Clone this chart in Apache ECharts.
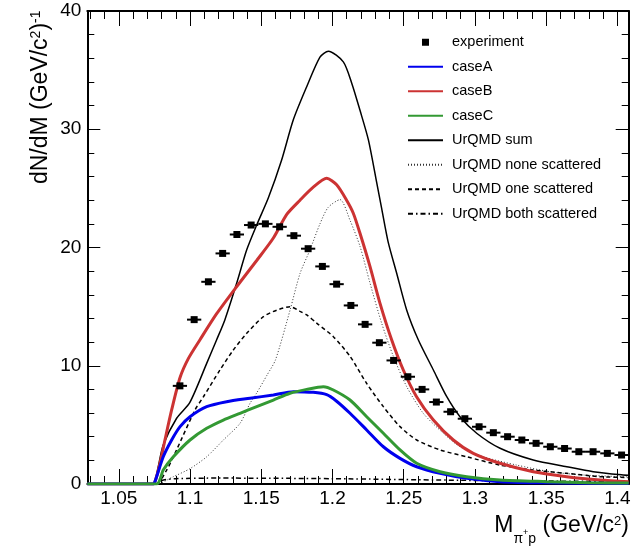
<!DOCTYPE html>
<html>
<head>
<meta charset="utf-8">
<script src="https://cdn.jsdelivr.net/npm/echarts@6/dist/echarts.min.js"></script>
<style>
html,body{margin:0;padding:0;background:#fff;}
#chart{width:640px;height:549px;}
</style>
</head>
<body>
<div id="chart"></div>
<script>
// ---------- data ----------
const xMin = 1.0279, xMax = 1.4079;
const xMajorTicks = [1.05, 1.1, 1.15, 1.2, 1.25, 1.3, 1.35, 1.4];
const xMinorTicks = [1.03,1.04,1.05,1.06,1.07,1.08,1.09,1.1,1.11,1.12,1.13,1.14,1.15,1.16,1.17,1.18,1.19,1.2,
  1.21,1.22,1.23,1.24,1.25,1.26,1.27,1.28,1.29,1.3,1.31,1.32,1.33,1.34,1.35,1.36,1.37,1.38,1.39,1.4];
const yTickLabels = [0, 10, 20, 30, 40];

const expCenters = [1.0929,1.1029,1.1129,1.1229,1.1329,1.1429,1.1529,1.1629,1.1729,1.1829,1.1929,1.2029,
  1.2129,1.2229,1.2329,1.2429,1.2529,1.2629,1.2729,1.2829,1.2929,1.3029,1.3129,1.3229,1.3329,1.3429,
  1.3529,1.3629,1.3729,1.3829,1.3929,1.4029];
const expValues = [8.3,13.9,17.1,19.5,21.1,21.9,22.0,21.75,21.0,19.9,18.4,16.9,
  15.1,13.5,11.95,10.45,9.07,8.0,6.93,6.11,5.52,4.84,4.34,4.0,3.72,3.44,
  3.15,3.0,2.73,2.73,2.59,2.45];
const expHalfWidth = 0.005;

const caseA = [[1.0279,0],[1.074,0],[1.0754,0.2],[1.0812,2.3],[1.0871,3.72],[1.0930,4.85],[1.1000,5.69],
  [1.1117,6.54],[1.1257,6.96],[1.1421,7.25],[1.1585,7.53],[1.1725,7.81],[1.1865,7.75],[1.1959,7.55],
  [1.2029,7.0],[1.2123,5.98],[1.2240,4.57],[1.2357,3.15],[1.2474,2.17],[1.2591,1.46],[1.2755,0.9],
  [1.2942,0.48],[1.3176,0.2],[1.35,0.1],[1.4079,0.05]];
const caseB = [[1.0279,0],[1.074,0],[1.0754,0.2],[1.0789,1.75],[1.0824,3.72],[1.0871,6.26],[1.0930,9.0],
  [1.0988,10.6],[1.1070,12.2],[1.1187,14.4],[1.1328,16.7],[1.1468,18.9],[1.1585,20.8],[1.1679,22.8],
  [1.1772,24.0],[1.1865,25.1],[1.1959,25.85],[1.2029,25.3],[1.2099,24.0],[1.2146,22.9],[1.2193,21.2],
  [1.2263,18.4],[1.2333,15.3],[1.2415,12.2],[1.2497,9.64],[1.2590,7.38],[1.2708,5.41],[1.2848,3.72],
  [1.2988,2.59],[1.3176,1.75],[1.3409,1.04],[1.3644,0.62],[1.3878,0.34],[1.4079,0.2]];
const caseC = [[1.0279,0],[1.0765,0],[1.0812,1.18],[1.0883,2.3],[1.1000,3.72],[1.1117,4.71],[1.1234,5.41],
  [1.1351,5.98],[1.1468,6.54],[1.1585,7.1],[1.1702,7.67],[1.1819,8.0],[1.1936,8.23],[1.2006,7.95],
  [1.2123,7.1],[1.2240,5.69],[1.2357,4.29],[1.2474,2.88],[1.2591,1.75],[1.2755,1.04],[1.2942,0.62],
  [1.3176,0.34],[1.35,0.2],[1.38,0.1],[1.4079,0.08]];
const urqmdSum = [[1.0279,0],[1.074,0],[1.0754,0.2],[1.0777,1.46],[1.0812,3.3],[1.0906,5.56],[1.0999,6.9],
  [1.1117,10.2],[1.1187,12.2],[1.1245,13.9],[1.1328,17.0],[1.1398,19.8],[1.1468,21.9],[1.1550,24.2],
  [1.1643,27.4],[1.1725,30.8],[1.1819,33.6],[1.1912,36.1],[1.1971,36.6],[1.2076,35.7],[1.2135,33.9],
  [1.2193,31.6],[1.2252,29.1],[1.2310,25.5],[1.2345,23.3],[1.2390,20.5],[1.2451,17.8],[1.2521,14.7],
  [1.2602,12.2],[1.2708,9.64],[1.2802,7.38],[1.2895,5.69],[1.3012,4.29],[1.3176,3.02],[1.3409,2.03],
  [1.3644,1.46],[1.3830,1.04],[1.4040,0.76],[1.4079,0.74]];
const urqmdNone = [[1.0279,0],[1.0765,0],[1.0883,0.62],[1.1000,1.3],[1.1117,2.3],[1.1234,3.72],[1.1351,5.13],
  [1.1421,6.82],[1.1468,7.7],[1.1540,9.2],[1.1600,10.5],[1.1702,14.7],[1.1772,17.8],[1.1842,19.8],
  [1.1912,22.0],[1.1970,23.4],[1.2053,24.05],[1.2123,22.3],[1.2193,20.1],[1.2263,17.0],[1.2345,13.6],
  [1.2427,10.8],[1.2521,8.23],[1.2637,5.98],[1.2778,4.29],[1.2895,3.15],[1.3059,2.3],[1.3293,1.6],
  [1.3527,1.04],[1.3761,0.76],[1.4079,0.6]];
const urqmdOne = [[1.0279,0],[1.076,0],[1.0836,1.18],[1.0906,2.9],[1.1035,6.26],[1.1094,7.38],[1.1210,9.64],
  [1.1304,11.33],[1.1398,12.74],[1.1515,14.15],[1.1608,14.7],[1.1702,15.0],[1.1772,14.6],[1.1819,14.3],
  [1.1889,13.6],[1.2006,12.46],[1.2123,10.8],[1.2240,8.5],[1.2357,6.54],[1.2474,4.85],[1.2591,3.72],
  [1.2755,2.88],[1.2942,2.3],[1.3176,1.6],[1.3409,1.18],[1.3644,0.9],[1.3878,0.62],[1.4079,0.55]];
const urqmdBoth = [[1.0279,0],[1.076,0],[1.08,0.3],[1.09,0.45],[1.12,0.5],[1.2,0.45],[1.3,0.3],[1.4079,0.2]];

// ---------- chart ----------
const FONT = '"Liberation Sans", Arial, Helvetica, sans-serif';
const chart = echarts.init(document.getElementById('chart'), null, {renderer: 'canvas'});
const grid = {left: 87.3, top: 11, right: 11.3, bottom: 65, containLabel: false};

function xAxisDef(pos, ticks, len, showLabel, showLine) {
  return {
    type: 'value', min: xMin, max: xMax, position: pos,
    axisLine: {show: showLine, onZero: false, lineStyle: {color: '#000', width: 2}},
    axisTick: {show: true, inside: true, length: len, customValues: ticks, lineStyle: {color: '#000', width: 1}},
    axisLabel: {show: showLabel, customValues: xMajorTicks, fontSize: 19, fontFamily: FONT, color: '#000', margin: 5},
    splitLine: {show: false}
  };
}
function yAxisDef(pos, showLabel) {
  return {
    type: 'value', min: 0, max: 40, interval: 10, position: pos,
    axisLine: {show: true, onZero: false, lineStyle: {color: '#000', width: 2}},
    axisTick: {show: true, inside: true, length: 13, lineStyle: {color: '#000', width: 1}},
    minorTick: {show: true, splitNumber: 5, length: 7, lineStyle: {color: '#000', width: 1}},
    axisLabel: {show: showLabel, fontSize: 19, fontFamily: FONT, color: '#000', margin: 6},
    splitLine: {show: false}, minorSplitLine: {show: false}
  };
}

function lineSeries(name, data, color, width, type) {
  return {
    name: name, type: 'line', data: data, showSymbol: false, symbol: 'none',
    smooth: 0.25, xAxisIndex: 0, yAxisIndex: 0,
    lineStyle: {color: color, width: width, type: type || 'solid'},
    itemStyle: {color: color}, emphasis: {disabled: true}, silent: true, animation: false
  };
}
function legendLine(name) {
  return {name: name, itemStyle: {color: 'rgba(0,0,0,0)', opacity: 0, borderWidth: 0}};
}

const expData = expCenters.map((c, i) => [c, expValues[i]]);

const option = {
  animation: false,
  grid: grid,
  xAxis: [
    xAxisDef('bottom', xMajorTicks, 15, true, true),
    xAxisDef('bottom', xMinorTicks, 8, false, false),
    xAxisDef('top', xMajorTicks, 15, false, true),
    xAxisDef('top', xMinorTicks, 8, false, false)
  ],
  yAxis: [yAxisDef('left', true), yAxisDef('right', false)],
  legend: {
    orient: 'vertical', left: 407, top: 34.7, itemWidth: 35, itemHeight: 14, itemGap: 9.5,
    selectedMode: false, padding: 0,
    textStyle: {fontSize: 14.5, fontFamily: FONT, color: '#000', lineHeight: 14, padding: [0, 0, 0, 4]},
    data: [
      {name: 'experiment', icon: 'path://M0,0L0.01,0M35,14L35.01,14M14,3.5h7v7h-7z', itemStyle: {color: '#000', borderWidth: 0}},
      legendLine('caseA'), legendLine('caseB'), legendLine('caseC'), legendLine('UrQMD sum'),
      legendLine('UrQMD none scattered'), legendLine('UrQMD one scattered'), legendLine('UrQMD both scattered')
    ]
  },
  series: [
    lineSeries('UrQMD sum', urqmdSum, '#000', 1.5),
    lineSeries('UrQMD none scattered', urqmdNone, '#333', 1, [1, 2]),
    lineSeries('UrQMD one scattered', urqmdOne, '#000', 1.5, [4, 3]),
    lineSeries('UrQMD both scattered', urqmdBoth, '#000', 1.5, [5, 3, 1.5, 3]),
    lineSeries('caseB', caseB, '#cc3333', 3),
    lineSeries('caseA', caseA, '#0000ee', 3),
    lineSeries('caseC', caseC, '#339933', 3),
    {
      name: 'experiment', type: 'custom', data: expData, xAxisIndex: 0, yAxisIndex: 0,
      itemStyle: {color: '#000'}, silent: true, z: 10,
      renderItem: function (params, api) {
        const x = api.value(0), y = api.value(1);
        const p = api.coord([x, y]);
        const l = api.coord([x - expHalfWidth, y]);
        const r = api.coord([x + expHalfWidth, y]);
        return {
          type: 'group', children: [
            {type: 'line', shape: {x1: l[0], y1: p[1], x2: r[0], y2: p[1]}, style: {stroke: '#000', lineWidth: 2}},
            {type: 'rect', shape: {x: p[0] - 3.5, y: p[1] - 3.5, width: 7, height: 7}, style: {fill: '#000'}}
          ]
        };
      }
    }
  ],
  graphic: [
    {
      type: 'text', x: 52.5, y: 10.5, rotation: Math.PI / 2, silent: true,
      style: {
        text: '{m|dN/dM (GeV/c}{u|2}{m|)}{u|-1}', align: 'right', verticalAlign: 'bottom',
        fontFamily: FONT, fill: '#000',
        rich: {
          m: {fontSize: 23, lineHeight: 23, fontFamily: FONT, fill: '#000'},
          u: {fontSize: 14, lineHeight: 14, verticalAlign: 'top', fontFamily: FONT, fill: '#000'}
        }
      }
    },
    {
      type: 'text', x: 629, y: 506, silent: true,
      style: {
        text: '{m|M}{s|π}{ss|+}{s|p}{m| (GeV/c}{u|2}{m|)}', align: 'right', verticalAlign: 'top',
        fontFamily: FONT, fill: '#000',
        rich: {
          m: {fontSize: 23, lineHeight: 40, fontFamily: FONT, fill: '#000'},
          s: {fontSize: 14, lineHeight: 14, verticalAlign: 'bottom', fontFamily: FONT, fill: '#000'},
          ss: {fontSize: 9, verticalAlign: 'top', padding: [22, 0, 0, 0], fontFamily: FONT, fill: '#000'},
          u: {fontSize: 13, verticalAlign: 'top', padding: [9, 0, 0, 0], fontFamily: FONT, fill: '#000'}
        }
      }
    }
  ]
};
chart.setOption(option);
</script>
</body>
</html>
